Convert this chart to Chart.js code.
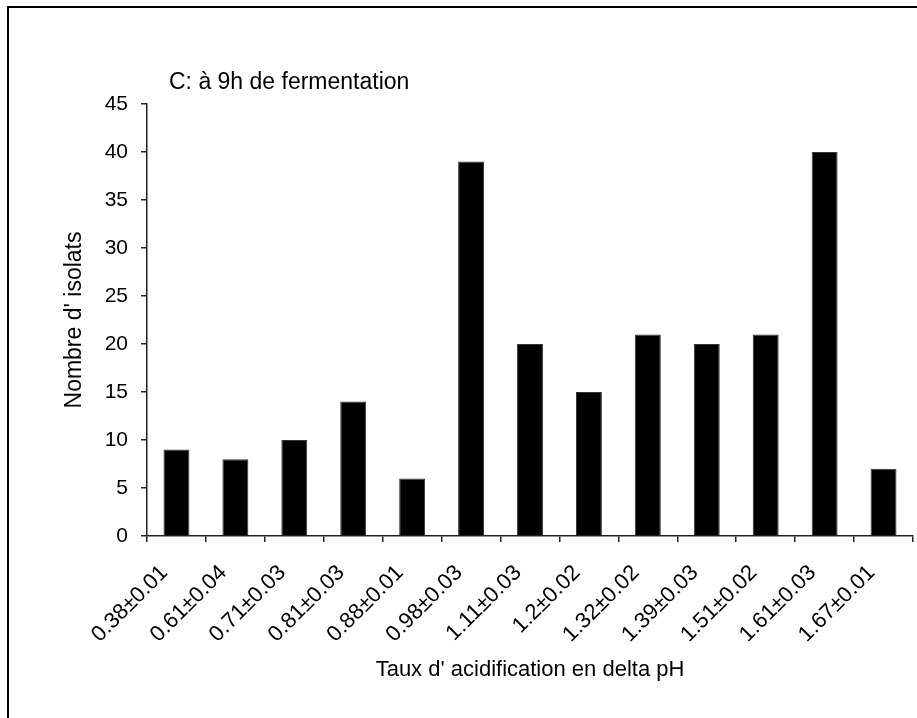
<!DOCTYPE html>
<html>
<head>
<meta charset="utf-8">
<script src="https://cdn.jsdelivr.net/npm/chart.js@4"></script>
<style>
  html, body { margin: 0; padding: 0; background: #fff; }
  #wrap { position: relative; width: 917px; height: 718px; overflow: hidden; }
  #frame { position: absolute; left: 7px; top: 6px; width: 940px; height: 740px; border: 2px solid #000; box-sizing: border-box; }
  canvas { position: absolute; left: 0; top: 0; }
</style>
</head>
<body>
<div id="wrap">
  <div id="frame"></div>
  <canvas id="barChart" width="917" height="718"></canvas>
</div>
<script>
var categories = ['0.38±0.01', '0.61±0.04', '0.71±0.03', '0.81±0.03', '0.88±0.01', '0.98±0.03', '1.11±0.03',
                  '1.2±0.02', '1.32±0.02', '1.39±0.03', '1.51±0.02', '1.61±0.03', '1.67±0.01'];
var isolats = [9, 8, 10, 14, 6, 39, 20, 15, 21, 20, 21, 40, 7];
var yTicks = [0, 5, 10, 15, 20, 25, 30, 35, 40, 45];

var panelTitle = 'C: à 9h de fermentation';
var xTitle = "Taux d' acidification en delta pH";
var yTitle = "Nombre d' isolats";

var fontFamily = '"Liberation Sans", Arial, sans-serif';

// small label written above the plot, like in the original figure
var panelLabel = {
    id: 'panelLabel',
    afterDraw: function (chart) {
        var c = chart.ctx;
        var area = chart.chartArea;
        c.save();
        c.fillStyle = '#000';
        c.font = '23px ' + fontFamily;
        c.textBaseline = 'alphabetic';
        c.textAlign = 'left';
        c.fillText(panelTitle, area.left + 22, area.top - 15);
        c.restore();
    }
};

var ctx = document.getElementById('barChart').getContext('2d');

var myChart = new Chart(ctx, {
    type: 'bar',
    data: {
        labels: categories,
        datasets: [{
            label: yTitle,
            data: isolats,
            backgroundColor: '#000',
            borderColor: '#333',
            borderWidth: 1,
            barPercentage: 0.44,
            categoryPercentage: 1
        }]
    },
    options: {
        responsive: false,
        animation: false,
        layout: { padding: { left: 0, top: 104, right: 4, bottom: 0 } },
        plugins: {
            legend: { display: false },
            tooltip: { enabled: false }
        },
        scales: {
            x: {
                grid: { drawOnChartArea: false, drawTicks: true, tickLength: 6, color: '#222', lineWidth: 1.5, offset: true },
                border: { display: true, color: '#222', width: 1.5 },
                ticks: {
                    color: '#000',
                    font: { family: fontFamily, size: 22 },
                    minRotation: 45,
                    maxRotation: 45,
                    autoSkip: false,
                    padding: 18,
                    labelOffset: -12
                },
                title: {
                    display: true,
                    text: xTitle,
                    color: '#000',
                    font: { family: fontFamily, size: 22 },
                    padding: { top: 0, bottom: 35 }
                },
                afterFit: function (scale) {
                    scale.height = 182;
                    scale.paddingLeft = 0;
                    scale.paddingRight = 0;
                }
            },
            y: {
                min: 0,
                max: 45,
                afterBuildTicks: function (scale) {
                    scale.ticks = yTicks.map(function (v) { return { value: v }; });
                },
                grid: { drawOnChartArea: false, drawTicks: true, tickLength: 6, color: '#222', lineWidth: 1.5 },
                border: { display: true, color: '#222', width: 1.5 },
                ticks: {
                    color: '#000',
                    font: { family: fontFamily, size: 21 },
                    padding: 13
                },
                title: {
                    display: true,
                    text: yTitle,
                    color: '#000',
                    font: { family: fontFamily, size: 23 },
                    padding: { top: 61, bottom: 0 }
                },
                afterFit: function (scale) { scale.width = 147; }
            }
        }
    },
    plugins: [panelLabel]
});
</script>
</body>
</html>
